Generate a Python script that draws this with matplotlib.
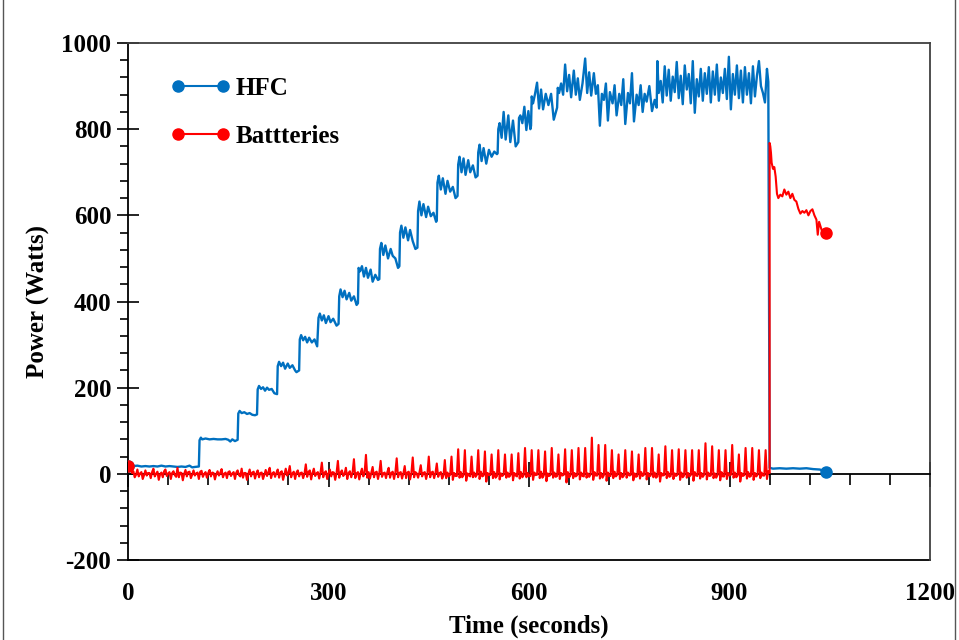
import numpy as np
import matplotlib
matplotlib.use("Agg")
import matplotlib.pyplot as plt
from matplotlib.lines import Line2D
from matplotlib.ticker import MultipleLocator

plt.rcParams["font.family"] = ["Liberation Serif", "DejaVu Serif"]
plt.rcParams["font.weight"] = "bold"
plt.rcParams["axes.unicode_minus"] = False

# HFC power (W): (time s, power W)
hfc = [
    (0, 19), (4, 19), (8, 18), (14, 19), (20, 17), (26, 18), (32, 17), (38, 18), (44, 17), (50, 19),
    (56, 17), (62, 18), (68, 17), (74, 16), (80, 17), (86, 16), (92, 19), (96, 15), (100, 16), (106, 17),
    (107, 78), (109, 84), (111, 80), (116, 82), (122, 80), (128, 81), (134, 80), (140, 80), (146, 81),
    (150, 79), (153, 75), (156, 80), (160, 76), (164, 79),
    (165, 140), (167, 146), (170, 141), (174, 143), (178, 139), (182, 141), (186, 137), (190, 136), (193, 138),
    (194, 196), (196, 204), (199, 197), (202, 201), (205, 193), (208, 200), (211, 195), (215, 197), (219, 187), (223, 185),
    (224, 250), (226, 260), (229, 250), (232, 258), (235, 244), (239, 256), (242, 246), (246, 252), (250, 240), (252, 236), (256, 240),
    (257, 312), (259, 322), (262, 310), (265, 318), (268, 305), (271, 316), (275, 305), (279, 312), (283, 296),
    (285, 362), (287, 372), (290, 356), (293, 368), (296, 350), (300, 366), (303, 352), (307, 360), (312, 344), (315, 348),
    (316, 412), (318, 428), (321, 410), (324, 425), (327, 405), (331, 420), (334, 402), (338, 412), (342, 392), (344, 396),
    (345, 478), (347, 470), (350, 482), (353, 458), (356, 478), (359, 455), (363, 474), (366, 446), (370, 462), (374, 450), (376, 452),
    (377, 522), (379, 536), (382, 508), (385, 530), (389, 500), (393, 522), (396, 506), (400, 500), (404, 478), (406, 482),
    (407, 560), (409, 576), (412, 548), (415, 572), (419, 542), (422, 566), (426, 540), (430, 522), (433, 525),
    (434, 610), (436, 632), (439, 600), (442, 626), (446, 596), (449, 620), (453, 598), (457, 606), (461, 585), (462, 588),
    (463, 676), (465, 692), (468, 660), (471, 686), (475, 650), (478, 680), (482, 655), (486, 666), (490, 640), (493, 645),
    (494, 718), (496, 736), (499, 700), (502, 732), (505, 694), (509, 728), (512, 700), (516, 716), (520, 688), (523, 692),
    (524, 746), (526, 764), (529, 726), (532, 756), (536, 720), (540, 752), (544, 736), (548, 748), (552, 742), (553, 744),
    (554, 800), (556, 814), (559, 780), (562, 840), (565, 776), (569, 832), (572, 770), (576, 820), (580, 760), (584, 770),
    (585, 826), (587, 832), (590, 814), (593, 852), (596, 798), (599, 842), (602, 800), (603, 808),
    (604, 876), (606, 860), (609, 882), (612, 908), (615, 848), (618, 892), (621, 846), (625, 882), (629, 856), (633, 882), (637, 822), (642, 850),
    (643, 896), (645, 884), (648, 906), (651, 880), (654, 950), (657, 888), (660, 926), (663, 874), (667, 936), (670, 880),
    (673, 918), (676, 868), (680, 906), (684, 964), (687, 884), (690, 932), (693, 878), (697, 930), (700, 882),
    (703, 902), (706, 808), (709, 882), (712, 868), (715, 906), (718, 820), (721, 886), (725, 860), (728, 902), (731, 832),
    (735, 882), (738, 856), (741, 916), (744, 812), (748, 884), (751, 860), (754, 930), (757, 818), (761, 880), (764, 856),
    (767, 902), (770, 840), (773, 882), (776, 864), (780, 900), (784, 842), (788, 868), (791, 850),
    (792, 958), (794, 884), (797, 912), (800, 862), (803, 946), (806, 878), (809, 938), (812, 866), (815, 922), (818, 886),
    (821, 956), (824, 872), (827, 924), (830, 858), (833, 948), (836, 892), (839, 928), (842, 860), (845, 958), (848, 838),
    (851, 916), (854, 876), (857, 940), (860, 866), (863, 930), (866, 882), (869, 944), (872, 862), (875, 934), (878, 880),
    (881, 950), (884, 866), (887, 920), (890, 884), (893, 940), (896, 870), (899, 968), (902, 846), (905, 928), (908, 880),
    (911, 948), (914, 872), (917, 936), (920, 862), (923, 944), (926, 880), (929, 930), (932, 860), (935, 946), (938, 876),
    (941, 924), (944, 958), (947, 900), (950, 884), (953, 862), (956, 940), (958, 910),
    (960, 14), (965, 12), (975, 13), (985, 12), (995, 13), (1005, 12), (1015, 13), (1025, 11), (1035, 10), (1045, 5),
]

# Batteries, first part: sampled every 2 s from 0 to 470 s
batt_early = [
    18, 9, 16, 2, 6, -8, -2, 10, -6, 1, 4, -12, -3, 8, -4, 2, 2, -10, 4, 12,
    -6, 0, 5, -14, -1, 3, -8, 6, 10, -5, 1, 4, -12, 2, 6, -3, -7, 14, -8, 3,
    2, -15, 0, 9, -6, 4, 5, -10, -2, 8, -4, 1, 3, -12, 5, 7, -7, 0, 4, -9,
    2, 9, -6, 3, 2, -13, -1, 6, -4, 2, 11, -8, 0, 3, -10, 4, 6, -5, 1, 4,
    -12, 3, 8, -3, -6, 12, -9, 2, 2, -14, 0, 10, -6, 3, 5, -11, 1, 8, -8, 2,
    3, -12, -2, 9, -5, 4, 14, -10, 1, 4, -7, 2, 10, -9, 3, 6, -14, -1, 12, -4,
    2, 18, -8, 1, 5, -12, 3, 8, -6, 2, 3, -10, 0, 22, -7, 4, 8, -13, 2, 12,
    -5, 1, 4, -11, 3, 26, -8, 2, 6, -12, 1, 10, -6, 4, 3, -14, 2, 30, -9, 3,
    8, -5, 0, 14, -12, 2, 6, -8, 3, 34, -10, 1, 4, -13, 2, 12, -6, 3, 44, -9,
    4, -11, 2, 16, -8, 3, 5, -12, 2, 30, -7, 1, 3, -10, 4, 14, -9, 2, 5, -12,
    3, 36, -8, 2, 4, -11, 1, 18, -10, 3, 5, -13, 2, 38, -8, 4, 1, -9, 3, 20,
    -6, 2, 4, -12, 1, 40, -8, 3, 5, -10, 2, 24, -7, 1, 4, -11,
]
batt_early_t = np.arange(len(batt_early)) * 2.0

# Batteries, pulsed part: every 2 s from 472 s, one pulse per 10 s
batt_pulses = [
    [-4, 32, -10, 3, -6], [-2, 40, -14, 2, -5], [-5, 57, -9, 4, -8], [-3, 55, -16, 1, -4], [-6, 40, -8, 3, -7],
    [-2, 55, -12, 5, -6], [-4, 52, -18, 2, -3], [-3, 45, -10, 4, -9], [-5, 55, -13, 1, -5], [-2, 45, -9, 3, -7],
    [-4, 45, -15, 2, -4], [-6, 48, -11, 4, -8], [-3, 60, -8, 2, -6], [-5, 55, -14, 3, -3], [-2, 55, -10, 5, -9],
    [-4, 52, -17, 1, -5], [-3, 60, -9, 3, -7], [-5, 45, -12, 2, -4], [-2, 57, -20, 4, -8], [-4, 55, -10, 2, -6],
    [-3, 60, -13, 3, -5], [-6, 60, -9, 1, -7], [-2, 84, -14, 4, -4], [-4, 67, -11, 2, -9], [-3, 67, -16, 3, -5],
    [-5, 55, -10, 5, -6], [-2, 45, -12, 2, -8], [-4, 55, -9, 3, -4], [-3, 52, -15, 1, -7], [-5, 45, -11, 4, -5],
    [-2, 60, -13, 2, -6], [-4, 60, -8, 3, -9], [-6, 45, -18, 2, -4], [-3, 64, -10, 4, -7], [-5, 55, -12, 1, -5],
    [-2, 57, -14, 3, -8], [-4, 55, -9, 2, -6], [-3, 55, -16, 4, -4], [-5, 55, -11, 2, -7], [-2, 71, -13, 3, -5],
    [-4, 64, -10, 1, -9], [-3, 55, -15, 4, -6], [-6, 55, -12, 2, -4], [-2, 67, -9, 3, -8], [-4, 45, -18, 2, -5],
    [-3, 60, -11, 4, -7], [-5, 60, -14, 2, -6], [-2, 55, -10, 3, -4], [-4, 55, -12, 6, 2],
]
batt_pulses = np.ravel(batt_pulses)
batt_pulses_t = 472 + np.arange(len(batt_pulses)) * 2.0

# Batteries after the HFC drops out: (time s, power W)
batt_tail = [
    (960, 768), (961, 760), (962, 745), (963, 722), (965, 708), (967, 712), (969, 690), (971, 650),
    (973, 640), (976, 648), (979, 644), (982, 660), (985, 648), (988, 655), (991, 640), (994, 650),
    (997, 636), (1000, 632), (1003, 615), (1006, 604), (1009, 610), (1012, 606), (1015, 612),
    (1018, 600), (1021, 610), (1024, 614), (1027, 600), (1030, 590), (1032, 555), (1034, 585),
    (1036, 575), (1038, 565), (1041, 562), (1045, 560),
]

x_ticks = [0, 300, 600, 900, 1200]
y_ticks = [-200, 0, 200, 400, 600, 800, 1000]

BLUE = "#0070C0"
RED = "#FF0000"
FS = 18

hfc_t, hfc_w = np.array(hfc, dtype=float).T
tail_t, tail_w = np.array(batt_tail, dtype=float).T
batt_t = np.concatenate([batt_early_t, batt_pulses_t, tail_t])
batt_w = np.concatenate([batt_early, batt_pulses, tail_w])

fig = plt.figure(figsize=(9.59, 6.40), dpi=100)
ax = fig.add_axes([0.1335, 0.125, 0.8363, 0.8078])

ax.plot(hfc_t, hfc_w, color=BLUE, lw=1.7, zorder=3)
ax.plot(hfc_t[[0, -1]], hfc_w[[0, -1]], "o", color=BLUE, ms=8, zorder=3)
ax.plot(batt_t, batt_w, color=RED, lw=1.5, zorder=4)
ax.plot(batt_t[[0, -1]], batt_w[[0, -1]], "o", color=RED, ms=8, zorder=4)

ax.set_xlim(0, 1200)
ax.set_ylim(-200, 1000)
ax.set_yticks(y_ticks)
ax.yaxis.set_minor_locator(MultipleLocator(40))
ax.set_xticks(x_ticks)
ax.xaxis.set_minor_locator(MultipleLocator(60))

# x axis drawn through zero, labels sit under the plot frame
ax.spines["bottom"].set_position(("data", 0))
ax.spines["bottom"].set_linewidth(1.3)
ax.spines["left"].set_linewidth(1.3)
for side in ("top", "right"):
    ax.spines[side].set_color("#404040")
    ax.spines[side].set_linewidth(1.3)
ax.tick_params(axis="x", which="major", direction="inout", length=18, width=1.2, labelbottom=False)
ax.tick_params(axis="x", which="minor", direction="out", length=8, width=1.2)
ax.tick_params(axis="y", which="major", direction="inout", length=16, width=1.2, labelsize=FS, pad=4)
ax.tick_params(axis="y", which="minor", direction="out", length=6, width=1.2)

sec = ax.secondary_xaxis("bottom")
sec.set_xticks(x_ticks)
sec.tick_params(length=0, pad=16, labelsize=FS)
sec.spines["bottom"].set_linewidth(1.3)
sec.set_xlabel("Time (seconds)", fontsize=FS, fontweight="bold", labelpad=7)
ax.set_ylabel("Power (Watts)", fontsize=FS, fontweight="bold", labelpad=8)

handles = [
    Line2D([], [], color=BLUE, lw=1.5, marker="o", ms=8),
    Line2D([], [], color=RED, lw=1.5, marker="o", ms=8),
]
ax.legend(handles, ["HFC", "Battteries"], loc="upper left", bbox_to_anchor=(0.053, 0.935),
          frameon=False, numpoints=2, handlelength=2.4, handletextpad=0.2,
          labelspacing=1.0, borderpad=0, borderaxespad=0,
          prop={"family": ["Liberation Serif"], "weight": "bold", "size": FS})

# thin outer chart border, left and right
fig.add_artist(Line2D([0.003, 0.003], [0, 1], transform=fig.transFigure, color="#555555", lw=1))
fig.add_artist(Line2D([0.996, 0.996], [0, 1], transform=fig.transFigure, color="#555555", lw=1))

fig.savefig("out.png", dpi=100)
